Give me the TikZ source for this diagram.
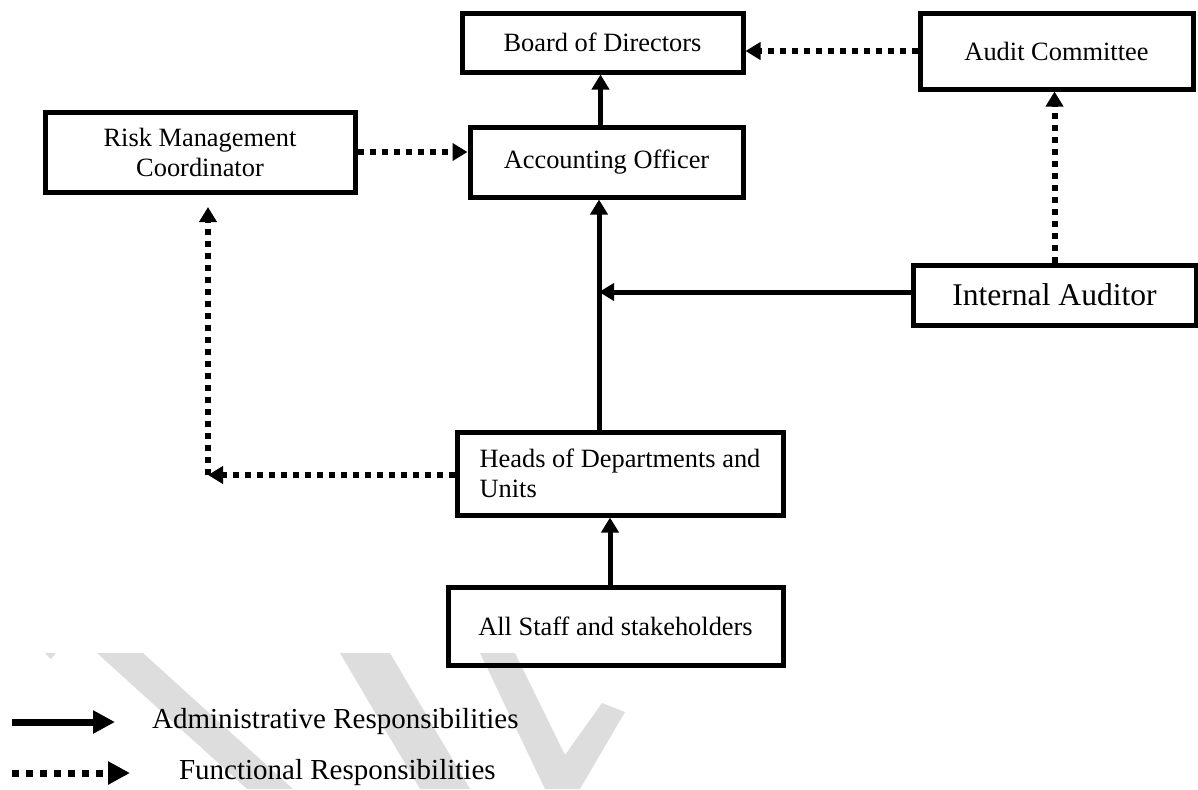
\documentclass[tikz,border=0pt]{standalone}
\usepackage{fontspec}
\setmainfont{Liberation Serif}
\usetikzlibrary{arrows.meta,positioning}
\definecolor{wmark}{RGB}{221,221,221}

\begin{document}
\begin{tikzpicture}[
		x=0.5pt, y=-0.5pt
		,every node/.append style={font=\fontsize{13.2}{15}\selectfont}
		,box/.style={draw, line width=2.5pt, align=center, inner sep=0pt}
		,adm/.style={line width=2.5pt, -{Triangle[length=7.5pt,width=8.5pt]}}
		,fun/.style={line width=3pt, dash pattern=on 3pt off 3pt, -{Triangle[length=7.5pt,width=8.5pt]}}
		,key/.style={font=\fontsize{14.5}{17}\selectfont, anchor=west}
	]
	\useasboundingbox (0,0) rectangle (1198,789);
	% watermark
	\fill [wmark] (45,653) -- (56,653) -- (51,659) -- cycle;
	\fill [wmark] (97,653) -- (143,653) -- (293,789) -- (247,789) -- cycle;
	\fill [wmark] (340,653) -- (390,653) -- (470,789) -- (420,789) -- cycle;
	\fill [wmark] (480,653) -- (515,653) -- (565,755) -- (602,703) -- (625,712)
		-- (580,789) -- (545,789) -- cycle;

	\node [box, minimum width=140.5pt, minimum height=29.5pt] (board) at (602.5,42.5) {Board of Directors};
	\node [box, minimum width=136.5pt, minimum height=38pt] (audit) at (1056.5,51) {Audit Committee};
	\node [box, minimum width=155pt, minimum height=40pt] (risk) at (200,152) {Risk Management\\Coordinator};
	\node [box, minimum width=136.5pt, minimum height=35pt] (acct) at (606.5,162) {Accounting Officer};
	\node [box, minimum width=141.5pt, minimum height=30pt, font=\fontsize{15.8}{18}\selectfont] (internal) at (1054.5,295) {Internal Auditor};
	\node [box, minimum width=163pt, minimum height=41.5pt, align=left] (heads) at (620,473.5) {Heads of Departments and\\Units};
	\node [box, minimum width=167.5pt, minimum height=39pt] (staff) at (615.5,626) {All Staff and stakeholders};

	\coordinate (trunk) at (599,292);
	\coordinate (bend) at (208,475);
	\coordinate (riskin) at (208,207);

	\draw [adm] ([xshift=-3pt]acct.north) -- ([xshift=-3pt]acct.north |- board.south);
	\draw [adm] (heads.north -| trunk) -- (acct.south -| trunk);
	\draw [adm] (internal.west |- trunk) -- (trunk);
	\draw [adm] ([xshift=-2.75pt]staff.north) -- ([xshift=-2.75pt]staff.north |- heads.south);

	\draw [fun] (audit.west) -- (audit.west -| board.east);
	\draw [fun] (internal.north) -- (internal.north |- audit.south);
	\draw [fun] (risk.east) -- (risk.east -| acct.west);
	\draw [fun] (heads.west |- bend) -- (bend);
	\draw [fun] (bend) -- (riskin);

	% legend
	\coordinate (admA) at (12,722);
	\coordinate (admB) at (115,722);
	\coordinate (funA) at (12,773);
	\coordinate (funB) at (130,773);
	\draw [adm, line width=3.5pt, -{Triangle[length=11pt,width=11pt]}] (admA) -- (admB);
	\draw [fun, line width=3.5pt, dash pattern=on 3.5pt off 3.5pt, -{Triangle[length=11pt,width=11pt]}] (funA) -- (funB);
	\node [key] (admkey) at (145,722) {Administrative Responsibilities};
	\node [key] (funkey) at (172,773) {Functional Responsibilities};
\end{tikzpicture}
\end{document}
